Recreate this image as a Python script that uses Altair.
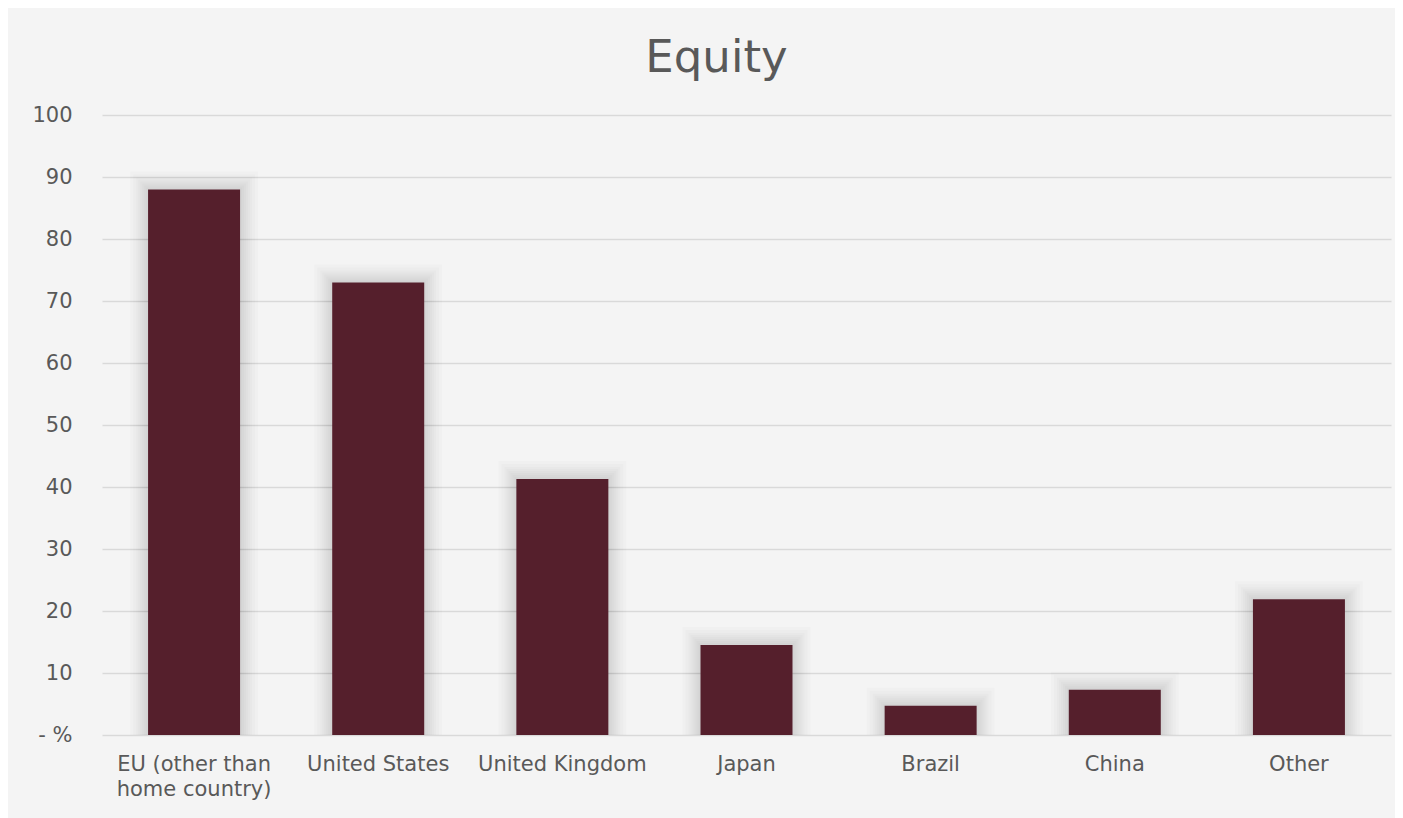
import altair as alt
import pandas as pd

categories = ["EU (other than home country)", "United States", "United Kingdom",
              "Japan", "Brazil", "China", "Other"]
values = [88.0, 73.0, 41.3, 14.5, 4.7, 7.3, 21.9]
y_ticks = [0, 10, 20, 30, 40, 50, 60, 70, 80, 90, 100]

df = pd.DataFrame({"region": categories, "value": values})

FONT = "DejaVu Sans"
TXT = "#595959"

x_enc = alt.X(
    "region:N", sort=categories, title=None,
    scale=alt.Scale(paddingInner=0.5, paddingOuter=0.25),
    axis=alt.Axis(
        labelAngle=0, ticks=False, domain=False, labelPadding=18,
        labelFont=FONT, labelFontSize=21, labelColor=TXT, labelLineHeight=25,
        labelExpr="datum.value == 'EU (other than home country)' ? ['EU (other than', 'home country)'] : datum.label",
    ),
)
y_enc = alt.Y(
    "value:Q", title=None,
    scale=alt.Scale(domain=[0, 100], nice=False),
    axis=alt.Axis(
        values=y_ticks, ticks=False, domain=False, labelPadding=30,
        labelFont=FONT, labelFontSize=21, labelColor=TXT,
        grid=True, gridColor="#d9d9d9", gridWidth=1.5,
        labelExpr="datum.value == 0 ? '-  %' : datum.label",
    ),
)

base = alt.Chart(df)

shadows = [
    base.mark_bar(color="#000000", opacity=0.014, size=92 + 2 * k,
                  yOffset=-k, y2Offset=0)
    .encode(x=x_enc, y=y_enc, y2=alt.datum(0))
    for k in (18, 15, 12, 10, 8, 6, 4, 2)
]

bars = base.mark_bar(color="#551F2C", size=92).encode(x=x_enc, y=y_enc)

chart = alt.layer(*shadows, bars).properties(
    width=1289, height=620,
    autosize=alt.AutoSizeParams(type="none"),
    padding={"left": 94, "top": 107, "right": 4, "bottom": 83},
    title=alt.TitleParams(
        "Equity", font=FONT, fontSize=45, fontWeight="normal", color=TXT,
        anchor="middle", baseline="bottom", offset=0, dy=22, dx=-30,
    ),
).configure(background="#f4f4f4").configure_view(stroke=None)

chart.save("out.html", embed_options={"renderer": "svg", "actions": False})
